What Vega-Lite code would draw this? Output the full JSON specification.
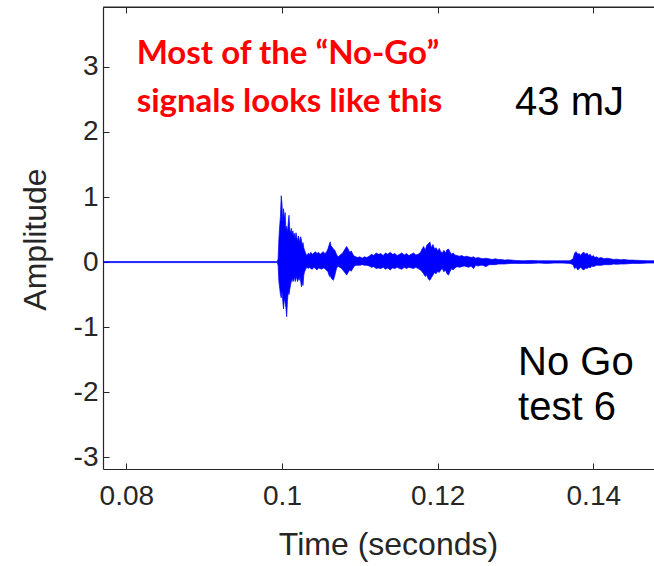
{
  "$schema": "https://vega.github.io/schema/vega-lite/v6.json",
  "width": 551,
  "height": 462,
  "autosize": {"type": "none"},
  "padding": {"left": 103, "top": 7, "right": 0, "bottom": 97},
  "background": "white",
  "config": {
    "view": {"stroke": null},
    "axis": {
      "grid": false,
      "domainColor": "#262626",
      "domainWidth": 1.2,
      "tickColor": "#262626",
      "tickWidth": 1,
      "labelFont": "Liberation Sans",
      "labelColor": "#262626",
      "titleFont": "Liberation Sans",
      "titleColor": "#262626",
      "titleFontWeight": "normal"
    }
  },
  "datasets": {
    "one": [{}],
    "signal": [
      {"t": 0.077, "hi": 0.008, "lo": -0.008},
      {"t": 0.0994, "hi": 0.008, "lo": -0.008},
      {"t": 0.0995, "hi": 0.05, "lo": -0.05},
      {"t": 0.0996, "hi": 0.35, "lo": -0.3},
      {"t": 0.0997, "hi": 0.55, "lo": -0.4},
      {"t": 0.0998, "hi": 0.7, "lo": -0.5},
      {"t": 0.0999, "hi": 1.02, "lo": -0.55},
      {"t": 0.1, "hi": 0.9, "lo": -0.45},
      {"t": 0.1001, "hi": 0.6, "lo": -0.6},
      {"t": 0.1002, "hi": 0.82, "lo": -0.72},
      {"t": 0.1003, "hi": 0.65, "lo": -0.55},
      {"t": 0.1004, "hi": 0.76, "lo": -0.62},
      {"t": 0.1005, "hi": 0.5, "lo": -0.7},
      {"t": 0.1006, "hi": 0.55, "lo": -0.84},
      {"t": 0.1007, "hi": 0.45, "lo": -0.6},
      {"t": 0.1008, "hi": 0.6, "lo": -0.45},
      {"t": 0.1009, "hi": 0.72, "lo": -0.5},
      {"t": 0.101, "hi": 0.5, "lo": -0.42},
      {"t": 0.1011, "hi": 0.45, "lo": -0.35},
      {"t": 0.1012, "hi": 0.52, "lo": -0.3},
      {"t": 0.1013, "hi": 0.42, "lo": -0.25},
      {"t": 0.1014, "hi": 0.48, "lo": -0.3},
      {"t": 0.1015, "hi": 0.4, "lo": -0.28},
      {"t": 0.1016, "hi": 0.44, "lo": -0.22},
      {"t": 0.1017, "hi": 0.35, "lo": -0.3},
      {"t": 0.1018, "hi": 0.45, "lo": -0.26},
      {"t": 0.1019, "hi": 0.38, "lo": -0.22},
      {"t": 0.102, "hi": 0.32, "lo": -0.3},
      {"t": 0.1021, "hi": 0.4, "lo": -0.24},
      {"t": 0.1022, "hi": 0.36, "lo": -0.28},
      {"t": 0.1023, "hi": 0.3, "lo": -0.22},
      {"t": 0.1024, "hi": 0.39, "lo": -0.3},
      {"t": 0.1025, "hi": 0.34, "lo": -0.38},
      {"t": 0.1026, "hi": 0.25, "lo": -0.3},
      {"t": 0.1027, "hi": 0.3, "lo": -0.36},
      {"t": 0.1028, "hi": 0.22, "lo": -0.2},
      {"t": 0.1029, "hi": 0.18, "lo": -0.15},
      {"t": 0.103, "hi": 0.15, "lo": -0.12},
      {"t": 0.1031, "hi": 0.12, "lo": -0.1},
      {"t": 0.1032, "hi": 0.1, "lo": -0.08},
      {"t": 0.1033, "hi": 0.12, "lo": -0.09},
      {"t": 0.1034, "hi": 0.14, "lo": -0.1},
      {"t": 0.1035, "hi": 0.11, "lo": -0.08},
      {"t": 0.1037, "hi": 0.15, "lo": -0.1},
      {"t": 0.1039, "hi": 0.12, "lo": -0.11},
      {"t": 0.1041, "hi": 0.14, "lo": -0.08},
      {"t": 0.1043, "hi": 0.16, "lo": -0.1},
      {"t": 0.1045, "hi": 0.13, "lo": -0.12},
      {"t": 0.1047, "hi": 0.15, "lo": -0.09},
      {"t": 0.1049, "hi": 0.12, "lo": -0.1},
      {"t": 0.1051, "hi": 0.14, "lo": -0.11},
      {"t": 0.1053, "hi": 0.16, "lo": -0.09},
      {"t": 0.1055, "hi": 0.13, "lo": -0.1},
      {"t": 0.1057, "hi": 0.15, "lo": -0.12},
      {"t": 0.1059, "hi": 0.2, "lo": -0.15},
      {"t": 0.1061, "hi": 0.28, "lo": -0.22},
      {"t": 0.1062, "hi": 0.31, "lo": -0.2},
      {"t": 0.1063, "hi": 0.25, "lo": -0.24},
      {"t": 0.1065, "hi": 0.22, "lo": -0.27},
      {"t": 0.1066, "hi": 0.2, "lo": -0.28},
      {"t": 0.1068, "hi": 0.18, "lo": -0.2},
      {"t": 0.107, "hi": 0.12, "lo": -0.1},
      {"t": 0.1072, "hi": 0.08, "lo": -0.06},
      {"t": 0.1074, "hi": 0.1, "lo": -0.08},
      {"t": 0.1076, "hi": 0.12, "lo": -0.09},
      {"t": 0.1078, "hi": 0.14, "lo": -0.12},
      {"t": 0.108, "hi": 0.18, "lo": -0.15},
      {"t": 0.1082, "hi": 0.22, "lo": -0.18},
      {"t": 0.1083, "hi": 0.24, "lo": -0.2},
      {"t": 0.1085, "hi": 0.2, "lo": -0.16},
      {"t": 0.1087, "hi": 0.15, "lo": -0.12},
      {"t": 0.1089, "hi": 0.17, "lo": -0.14},
      {"t": 0.1091, "hi": 0.12, "lo": -0.1},
      {"t": 0.1093, "hi": 0.09, "lo": -0.06},
      {"t": 0.1095, "hi": 0.08, "lo": -0.05},
      {"t": 0.1097, "hi": 0.07, "lo": -0.05},
      {"t": 0.11, "hi": 0.08, "lo": -0.05},
      {"t": 0.1103, "hi": 0.06, "lo": -0.04},
      {"t": 0.1106, "hi": 0.08, "lo": -0.05},
      {"t": 0.1109, "hi": 0.07, "lo": -0.05},
      {"t": 0.1112, "hi": 0.09, "lo": -0.06},
      {"t": 0.1115, "hi": 0.12, "lo": -0.08},
      {"t": 0.1118, "hi": 0.1, "lo": -0.07},
      {"t": 0.1121, "hi": 0.14, "lo": -0.1},
      {"t": 0.1124, "hi": 0.12, "lo": -0.09},
      {"t": 0.1127, "hi": 0.13, "lo": -0.1},
      {"t": 0.113, "hi": 0.1, "lo": -0.08},
      {"t": 0.1133, "hi": 0.14, "lo": -0.11},
      {"t": 0.1136, "hi": 0.12, "lo": -0.09},
      {"t": 0.1139, "hi": 0.15, "lo": -0.12},
      {"t": 0.1142, "hi": 0.12, "lo": -0.09},
      {"t": 0.1145, "hi": 0.13, "lo": -0.1},
      {"t": 0.1148, "hi": 0.1, "lo": -0.08},
      {"t": 0.1151, "hi": 0.12, "lo": -0.1},
      {"t": 0.1154, "hi": 0.14, "lo": -0.11},
      {"t": 0.1157, "hi": 0.11, "lo": -0.08},
      {"t": 0.116, "hi": 0.13, "lo": -0.1},
      {"t": 0.1163, "hi": 0.1, "lo": -0.08},
      {"t": 0.1166, "hi": 0.12, "lo": -0.09},
      {"t": 0.1169, "hi": 0.14, "lo": -0.1},
      {"t": 0.1172, "hi": 0.11, "lo": -0.08},
      {"t": 0.1175, "hi": 0.12, "lo": -0.1},
      {"t": 0.1178, "hi": 0.15, "lo": -0.12},
      {"t": 0.118, "hi": 0.2, "lo": -0.15},
      {"t": 0.1182, "hi": 0.24, "lo": -0.18},
      {"t": 0.1184, "hi": 0.18, "lo": -0.22},
      {"t": 0.1186, "hi": 0.26, "lo": -0.2},
      {"t": 0.1188, "hi": 0.28, "lo": -0.26},
      {"t": 0.119, "hi": 0.31, "lo": -0.28},
      {"t": 0.1192, "hi": 0.22, "lo": -0.24},
      {"t": 0.1194, "hi": 0.27, "lo": -0.2},
      {"t": 0.1196, "hi": 0.2, "lo": -0.16},
      {"t": 0.1198, "hi": 0.22, "lo": -0.18},
      {"t": 0.12, "hi": 0.17, "lo": -0.14},
      {"t": 0.1202, "hi": 0.21, "lo": -0.16},
      {"t": 0.1204, "hi": 0.16, "lo": -0.12},
      {"t": 0.1206, "hi": 0.14, "lo": -0.1},
      {"t": 0.1208, "hi": 0.18, "lo": -0.15},
      {"t": 0.121, "hi": 0.14, "lo": -0.12},
      {"t": 0.1212, "hi": 0.19, "lo": -0.18},
      {"t": 0.1214, "hi": 0.2, "lo": -0.2},
      {"t": 0.1216, "hi": 0.15, "lo": -0.14},
      {"t": 0.1218, "hi": 0.12, "lo": -0.1},
      {"t": 0.122, "hi": 0.14, "lo": -0.12},
      {"t": 0.1222, "hi": 0.11, "lo": -0.09},
      {"t": 0.1225, "hi": 0.1, "lo": -0.07},
      {"t": 0.1228, "hi": 0.09, "lo": -0.08},
      {"t": 0.1231, "hi": 0.1, "lo": -0.07},
      {"t": 0.1234, "hi": 0.08, "lo": -0.06},
      {"t": 0.1237, "hi": 0.09, "lo": -0.07},
      {"t": 0.124, "hi": 0.08, "lo": -0.08},
      {"t": 0.1243, "hi": 0.07, "lo": -0.06},
      {"t": 0.1246, "hi": 0.08, "lo": -0.1},
      {"t": 0.1249, "hi": 0.06, "lo": -0.05},
      {"t": 0.1252, "hi": 0.07, "lo": -0.06},
      {"t": 0.1255, "hi": 0.06, "lo": -0.05},
      {"t": 0.1258, "hi": 0.05, "lo": -0.05},
      {"t": 0.1262, "hi": 0.06, "lo": -0.07},
      {"t": 0.1266, "hi": 0.05, "lo": -0.04},
      {"t": 0.127, "hi": 0.04, "lo": -0.04},
      {"t": 0.1274, "hi": 0.05, "lo": -0.04},
      {"t": 0.1278, "hi": 0.04, "lo": -0.03},
      {"t": 0.1282, "hi": 0.04, "lo": -0.03},
      {"t": 0.1286, "hi": 0.03, "lo": -0.03},
      {"t": 0.129, "hi": 0.035, "lo": -0.025},
      {"t": 0.1295, "hi": 0.03, "lo": -0.02},
      {"t": 0.13, "hi": 0.025, "lo": -0.02},
      {"t": 0.131, "hi": 0.02, "lo": -0.02},
      {"t": 0.132, "hi": 0.025, "lo": -0.02},
      {"t": 0.133, "hi": 0.02, "lo": -0.015},
      {"t": 0.134, "hi": 0.02, "lo": -0.02},
      {"t": 0.135, "hi": 0.02, "lo": -0.015},
      {"t": 0.136, "hi": 0.02, "lo": -0.015},
      {"t": 0.137, "hi": 0.02, "lo": -0.02},
      {"t": 0.1374, "hi": 0.05, "lo": -0.04},
      {"t": 0.1376, "hi": 0.14, "lo": -0.1},
      {"t": 0.1378, "hi": 0.16, "lo": -0.08},
      {"t": 0.138, "hi": 0.12, "lo": -0.12},
      {"t": 0.1382, "hi": 0.13, "lo": -0.1},
      {"t": 0.1384, "hi": 0.1, "lo": -0.08},
      {"t": 0.1386, "hi": 0.14, "lo": -0.11},
      {"t": 0.1388, "hi": 0.15, "lo": -0.12},
      {"t": 0.139, "hi": 0.12, "lo": -0.09},
      {"t": 0.1392, "hi": 0.14, "lo": -0.1},
      {"t": 0.1394, "hi": 0.1, "lo": -0.08},
      {"t": 0.1396, "hi": 0.12, "lo": -0.09},
      {"t": 0.1398, "hi": 0.08, "lo": -0.06},
      {"t": 0.14, "hi": 0.1, "lo": -0.07},
      {"t": 0.1402, "hi": 0.07, "lo": -0.06},
      {"t": 0.1404, "hi": 0.08, "lo": -0.05},
      {"t": 0.1407, "hi": 0.06, "lo": -0.05},
      {"t": 0.141, "hi": 0.07, "lo": -0.05},
      {"t": 0.1414, "hi": 0.05, "lo": -0.04},
      {"t": 0.1418, "hi": 0.06, "lo": -0.04},
      {"t": 0.1422, "hi": 0.05, "lo": -0.04},
      {"t": 0.1426, "hi": 0.04, "lo": -0.03},
      {"t": 0.143, "hi": 0.045, "lo": -0.035},
      {"t": 0.1435, "hi": 0.035, "lo": -0.03},
      {"t": 0.144, "hi": 0.04, "lo": -0.03},
      {"t": 0.1445, "hi": 0.03, "lo": -0.025},
      {"t": 0.145, "hi": 0.03, "lo": -0.02},
      {"t": 0.146, "hi": 0.025, "lo": -0.02},
      {"t": 0.147, "hi": 0.02, "lo": -0.015},
      {"t": 0.1478, "hi": 0.02, "lo": -0.015}
    ]
  },
  "resolve": {"axis": {"x": "independent", "y": "independent"}},
  "layer": [
    {
      "data": {"name": "signal"},
      "mark": {"type": "area", "color": "#0000ff", "stroke": "#0000ff", "strokeWidth": 0.7, "clip": true},
      "encoding": {
        "x": {
          "field": "t", "type": "quantitative",
          "scale": {"domain": [0.077, 0.1478], "nice": false, "zero": false},
          "axis": {
            "orient": "bottom", "values": [0.08, 0.1, 0.12, 0.14], "labelExpr": "'' + datum.value",
            "tickSize": -6, "labelPadding": 19, "labelFontSize": 28,
            "title": "Time (seconds)", "titleFontSize": 32,
            "titleX": 285, "titleY": 85, "titleBaseline": "alphabetic", "titleAnchor": "start", "titleAlign": "center"
          }
        },
        "y": {
          "field": "hi", "type": "quantitative",
          "scale": {"domain": [-3.18, 3.92], "nice": false, "zero": false},
          "axis": {
            "orient": "left", "values": [-3, -2, -1, 0, 1, 2, 3], "labelExpr": "'' + datum.value",
            "tickSize": -6, "labelPadding": 11, "labelFontSize": 28,
            "title": "Amplitude", "titleFontSize": 32,
            "titleX": -68, "titleY": 232, "titleAngle": -90, "titleBaseline": "middle", "titleAlign": "center", "titleAnchor": "start"
          }
        },
        "y2": {"field": "lo"}
      }
    },
    {
      "data": {"name": "one"},
      "mark": {"type": "rule", "color": "#262626", "strokeWidth": 1.2},
      "encoding": {
        "x": {
          "datum": 0.077, "type": "quantitative",
          "axis": {"orient": "top", "values": [0.08, 0.1, 0.12, 0.14], "labels": false, "domain": true, "ticks": true, "tickSize": -6, "title": null}
        },
        "x2": {"datum": 0.1478},
        "y": {"datum": 3.92, "type": "quantitative", "axis": null}
      }
    },
    {
      "data": {"name": "one"},
      "mark": {"type": "text", "text": "Most of the \u201cNo-Go\u201d", "font": "Lato", "fontWeight": "bold", "fontSize": 33, "color": "#ff0000", "align": "left", "baseline": "alphabetic"},
      "encoding": {
        "x": {"datum": 0.08133, "type": "quantitative", "axis": null},
        "y": {"datum": 3.05, "type": "quantitative", "axis": null}
      }
    },
    {
      "data": {"name": "one"},
      "mark": {"type": "text", "text": "signals looks like this", "font": "Lato", "fontWeight": "bold", "fontSize": 33, "color": "#ff0000", "align": "left", "baseline": "alphabetic"},
      "encoding": {
        "x": {"datum": 0.08133, "type": "quantitative", "axis": null},
        "y": {"datum": 2.31, "type": "quantitative", "axis": null}
      }
    },
    {
      "data": {"name": "one"},
      "mark": {"type": "text", "text": "43 mJ", "font": "Liberation Sans", "fontSize": 40, "color": "#000000", "align": "left", "baseline": "alphabetic"},
      "encoding": {
        "x": {"datum": 0.12995, "type": "quantitative", "axis": null},
        "y": {"datum": 2.26, "type": "quantitative", "axis": null}
      }
    },
    {
      "data": {"name": "one"},
      "mark": {"type": "text", "text": "No Go", "font": "Liberation Sans", "fontSize": 40, "color": "#000000", "align": "left", "baseline": "alphabetic"},
      "encoding": {
        "x": {"datum": 0.13033, "type": "quantitative", "axis": null},
        "y": {"datum": -1.74, "type": "quantitative", "axis": null}
      }
    },
    {
      "data": {"name": "one"},
      "mark": {"type": "text", "text": "test 6", "font": "Liberation Sans", "fontSize": 40, "color": "#000000", "align": "left", "baseline": "alphabetic"},
      "encoding": {
        "x": {"datum": 0.13033, "type": "quantitative", "axis": null},
        "y": {"datum": -2.43, "type": "quantitative", "axis": null}
      }
    }
  ]
}
